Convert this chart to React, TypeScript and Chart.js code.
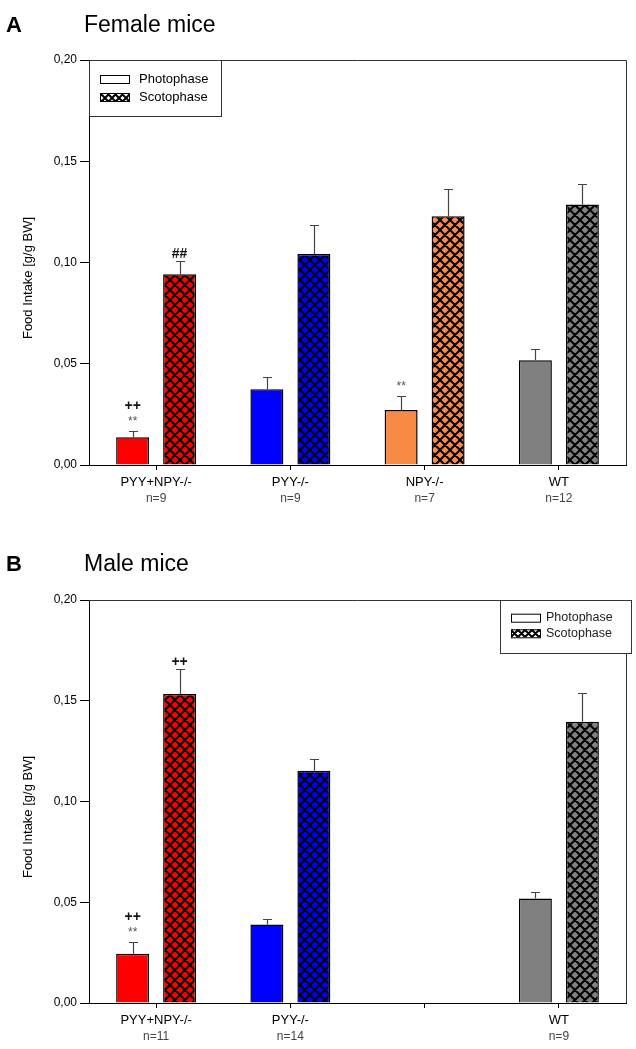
import React, { useEffect, useRef } from 'react';
import { Chart, registerables } from 'chart.js';

Chart.register(...registerables);

// ---------- DATA ----------
const femaleCategories = ['PYY+NPY-/-', 'PYY-/-', 'NPY-/-', 'WT'];
const femaleN = ['n=9', 'n=9', 'n=7', 'n=12'];
const femalePhoto = [0.0137, 0.0374, 0.0272, 0.0517];
const femalePhotoErr = [0.0031, 0.0059, 0.0069, 0.0057];
const femaleScoto = [0.0942, 0.1042, 0.1228, 0.1286];
const femaleScotoErr = [0.0067, 0.0142, 0.0134, 0.01];
const femalePhotoMarks = [['++', '**'], [], ['**'], []];
const femaleScotoMarks = [['##'], [], [], []];

const maleCategories = ['PYY+NPY-/-', 'PYY-/-', '', 'WT'];
const maleN = ['n=11', 'n=14', '', 'n=9'];
const malePhoto = [0.0245, 0.0389, null, 0.0518];
const malePhotoErr = [0.0056, 0.003, null, 0.0035];
const maleScoto = [0.1533, 0.1153, null, 0.1396];
const maleScotoErr = [0.0124, 0.0056, null, 0.0141];
const malePhotoMarks = [['++', '**'], [], [], []];
const maleScotoMarks = [['++'], [], [], []];

const yTicks = [0, 0.05, 0.1, 0.15, 0.2];
const seriesNames = ['Photophase', 'Scotophase'];
const groupColors = ['#ff0000', '#0000ff', '#f98a46', '#808080'];

const FONT = '"Liberation Sans", Arial, sans-serif';

type Legend = { x: number; y: number; w: number; h: number; sx: number; tx: number; r1: number; r2: number; size: number; color: string };
type PanelCfg = {
  letter: string;
  title: string;
  categories: string[];
  ns: string[];
  photo: (number | null)[];
  photoErr: (number | null)[];
  scoto: (number | null)[];
  scotoErr: (number | null)[];
  photoMarks: string[][];
  scotoMarks: string[][];
  top: number;
  height: number;
  plotTop: number;
  plotBottom: number;
  titleBase: number;
  legend: Legend;
};

function makeHatch(color: string, s: number, lw: number) {
  const c = document.createElement('canvas');
  c.width = s;
  c.height = s;
  const g = c.getContext('2d')!;
  g.fillStyle = color;
  g.fillRect(0, 0, s, s);
  g.strokeStyle = '#000';
  g.lineWidth = lw;
  g.beginPath();
  for (const o of [-s, 0, s]) {
    g.moveTo(o - 1, -1);
    g.lineTo(o + s + 1, s + 1);
    g.moveTo(o + s + 1, -1);
    g.lineTo(o - 1, s + 1);
  }
  g.stroke();
  return g.createPattern(c, 'repeat')!;
}

function Panel({ cfg }: { cfg: PanelCfg }) {
  const ref = useRef<HTMLCanvasElement>(null);
  useEffect(() => {
    const canvas = ref.current!;
    const hatch = groupColors.map((c) => makeHatch(c, 10, 2));
    const legendHatch = makeHatch('#ffffff', 7, 2);

    const overlay = {
      id: 'overlay',
      afterDraw(chart: any) {
        const ctx = chart.ctx as CanvasRenderingContext2D;
        const ca = chart.chartArea;
        const ys = chart.scales.y;
        const xs = chart.scales.x;
        ctx.save();
        // frame top/right
        ctx.strokeStyle = '#333';
        ctx.lineWidth = 1;
        ctx.beginPath();
        ctx.moveTo(Math.round(ca.left), Math.round(ca.top) + 0.5);
        ctx.lineTo(Math.round(ca.right) + 0.5, Math.round(ca.top) + 0.5);
        ctx.lineTo(Math.round(ca.right) + 0.5, Math.round(ca.bottom));
        ctx.stroke();

        // error bars and marks
        const vals = [cfg.photo, cfg.scoto];
        const errs = [cfg.photoErr, cfg.scotoErr];
        const marks = [cfg.photoMarks, cfg.scotoMarks];
        for (let d = 0; d < 2; d++) {
          const meta = chart.getDatasetMeta(d);
          vals[d].forEach((v, j) => {
            if (v === null) return;
            const e = errs[d][j] ?? 0;
            const bar = meta.data[j];
            const x = Math.round(bar.x) + 0.5;
            const yTop = ys.getPixelForValue(v);
            const yErr = Math.round(ys.getPixelForValue(v + e)) + 0.5;
            ctx.strokeStyle = '#444';
            ctx.lineWidth = 1.2;
            ctx.beginPath();
            ctx.moveTo(x, yTop);
            ctx.lineTo(x, yErr);
            ctx.moveTo(x - 4.5, yErr);
            ctx.lineTo(x + 4.5, yErr);
            ctx.stroke();
            const list = marks[d][j] || [];
            let center = 0;
            for (let k = list.length - 1; k >= 0; k--) {
              const m = list[k];
              const isAst = m.indexOf('*') >= 0;
              if (k === list.length - 1) center = yErr - (isAst ? 13 : 9);
              else center -= 13.5;
              ctx.textAlign = 'center';
              ctx.textBaseline = 'alphabetic';
              if (isAst) {
                ctx.font = `12px ${FONT}`;
                ctx.fillStyle = '#555';
                ctx.fillText(m, bar.x, center + 12 * 0.58);
              } else {
                ctx.font = `bold 14px ${FONT}`;
                ctx.fillStyle = '#111';
                ctx.fillText(m, bar.x, center + 14 * 0.36);
              }
            }
          });
        }

        // category labels
        cfg.categories.forEach((c, j) => {
          const x = xs.getPixelForValue(j);
          ctx.textAlign = 'center';
          ctx.textBaseline = 'middle';
          ctx.font = `13px ${FONT}`;
          ctx.fillStyle = '#000';
          if (c) ctx.fillText(c, x, ca.bottom + 17);
          ctx.font = `12px ${FONT}`;
          ctx.fillStyle = '#444';
          if (cfg.ns[j]) ctx.fillText(cfg.ns[j], x, ca.bottom + 34);
        });

        // y title
        ctx.save();
        ctx.translate(28, (ca.top + ca.bottom) / 2 + 15.5);
        ctx.rotate(-Math.PI / 2);
        ctx.textAlign = 'center';
        ctx.textBaseline = 'middle';
        ctx.font = `13px ${FONT}`;
        ctx.fillStyle = '#000';
        ctx.fillText('Food Intake [g/g BW]', 0, 0);
        ctx.restore();

        // panel titles
        ctx.textAlign = 'left';
        ctx.textBaseline = 'alphabetic';
        ctx.fillStyle = '#000';
        ctx.font = `bold 22px ${FONT}`;
        ctx.fillText(cfg.letter, 6, cfg.titleBase);
        ctx.font = `23px ${FONT}`;
        ctx.fillText(cfg.title, 84, cfg.titleBase);

        // legend
        const L = cfg.legend;
        ctx.fillStyle = '#fff';
        ctx.fillRect(L.x, L.y, L.w, L.h);
        ctx.strokeStyle = '#333';
        ctx.lineWidth = 1;
        ctx.strokeRect(L.x + 0.5, L.y + 0.5, L.w, L.h);
        const rows = [L.r1, L.r2];
        for (let r = 0; r < 2; r++) {
          const cy = rows[r];
          ctx.fillStyle = r === 0 ? '#fff' : (legendHatch as any);
          ctx.fillRect(L.sx, cy - 4, 29, 8);
          ctx.strokeStyle = '#000';
          ctx.lineWidth = 1;
          ctx.strokeRect(L.sx + 0.5, cy - 4 + 0.5, 29, 8);
          ctx.fillStyle = L.color;
          ctx.font = `${L.size}px ${FONT}`;
          ctx.textAlign = 'left';
          ctx.textBaseline = 'middle';
          ctx.fillText(seriesNames[r], L.tx, cy);
        }
        ctx.restore();
      },
    };

    const chart = new Chart(canvas, {
      type: 'bar',
      data: {
        labels: cfg.categories,
        datasets: [
          {
            label: seriesNames[0],
            data: cfg.photo as any,
            backgroundColor: groupColors,
            borderColor: '#000',
            borderWidth: 1.5,
            categoryPercentage: 0.7,
            barPercentage: 0.702,
          },
          {
            label: seriesNames[1],
            data: cfg.scoto as any,
            backgroundColor: hatch as any,
            borderColor: '#000',
            borderWidth: 1.5,
            categoryPercentage: 0.7,
            barPercentage: 0.702,
          },
        ],
      },
      options: {
        animation: false,
        responsive: false,
        devicePixelRatio: 1,
        events: [],
        layout: { padding: { top: cfg.plotTop, right: 10, left: 0, bottom: 0 } },
        plugins: { legend: { display: false }, tooltip: { enabled: false }, title: { display: false } },
        scales: {
          x: {
            type: 'category',
            offset: true,
            grid: { display: true, drawOnChartArea: false, offset: false, tickLength: 5, color: '#000', lineWidth: 1 },
            border: { display: true, color: '#000', width: 1 },
            ticks: { display: false },
            afterFit: (s: any) => {
              s.height = cfg.height - cfg.plotBottom;
            },
          },
          y: {
            min: 0,
            max: 0.2,
            grid: { drawOnChartArea: false, tickLength: 9, color: '#000', lineWidth: 1 },
            border: { display: true, color: '#000', width: 1 },
            afterBuildTicks: (s: any) => {
              s.ticks = yTicks.map((v) => ({ value: v }));
            },
            ticks: {
              padding: 3,
              color: '#000',
              font: { family: FONT, size: 12 },
              callback: (v: any) => Number(v).toFixed(2).replace('.', ','),
            },
            afterFit: (s: any) => {
              s.width = 89;
            },
          },
        },
      },
      plugins: [overlay],
    } as any);
    return () => chart.destroy();
  }, []);
  return (
    <canvas
      ref={ref}
      width={636}
      height={cfg.height}
      style={{ position: 'absolute', left: 0, top: cfg.top, width: 636, height: cfg.height, display: 'block' }}
    />
  );
}

const female: PanelCfg = {
  letter: 'A',
  title: 'Female mice',
  categories: femaleCategories,
  ns: femaleN,
  photo: femalePhoto,
  photoErr: femalePhotoErr,
  scoto: femaleScoto,
  scotoErr: femaleScotoErr,
  photoMarks: femalePhotoMarks,
  scotoMarks: femaleScotoMarks,
  top: 0,
  height: 525,
  plotTop: 60,
  plotBottom: 465,
  titleBase: 32,
  legend: { x: 89, y: 60, w: 132, h: 56, sx: 100, tx: 139, r1: 79, r2: 97, size: 13, color: '#000' },
};

const male: PanelCfg = {
  letter: 'B',
  title: 'Male mice',
  categories: maleCategories,
  ns: maleN,
  photo: malePhoto,
  photoErr: malePhotoErr,
  scoto: maleScoto,
  scotoErr: maleScotoErr,
  photoMarks: malePhotoMarks,
  scotoMarks: maleScotoMarks,
  top: 525,
  height: 524,
  plotTop: 75,
  plotBottom: 478,
  titleBase: 46,
  legend: { x: 500, y: 75, w: 131, h: 53, sx: 511, tx: 546, r1: 92.7, r2: 108.3, size: 12.5, color: '#222' },
};

export default function App() {
  return (
    <div style={{ position: 'absolute', left: 0, top: 0, width: 636, height: 1049, background: '#fff' }}>
      <Panel cfg={female} />
      <Panel cfg={male} />
    </div>
  );
}
